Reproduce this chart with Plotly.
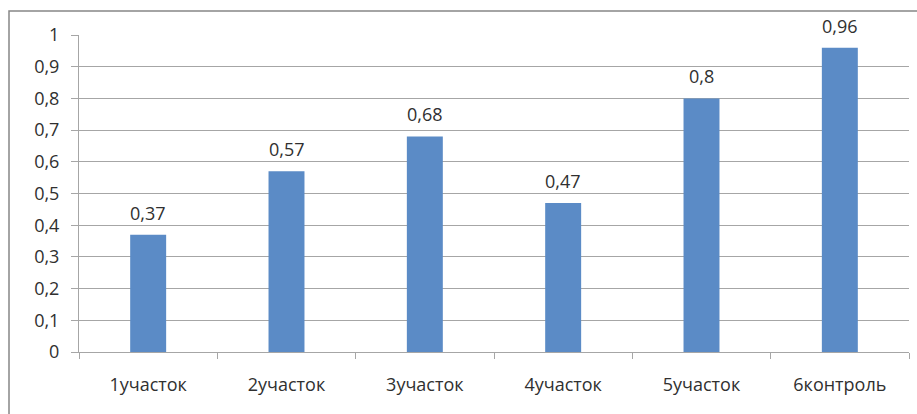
import plotly.graph_objects as go

categories = ["1участок", "2участок", "3участок", "4участок", "5участок", "6контроль"]
values = [0.37, 0.57, 0.68, 0.47, 0.80, 0.96]
y_ticks = [0, 0.1, 0.2, 0.3, 0.4, 0.5, 0.6, 0.7, 0.8, 0.9, 1.0]

FONT = "Open Sans"
FSIZE = 18
TEXT_COLOR = "#303030"
GRID = "#a6a6a6"
BAR = "#5b8bc6"


def fmt(v):
    s = ("%.2f" % v).rstrip("0").rstrip(".")
    return s.replace(".", ",")


fig = go.Figure()
fig.add_trace(go.Bar(
    x=categories,
    y=values,
    marker=dict(color=BAR, line=dict(width=0)),
    width=0.26,
    hoverinfo="skip",
))

for c, v in zip(categories, values):
    fig.add_annotation(
        x=c, y=v, text=fmt(v), showarrow=False,
        yanchor="bottom", yshift=8,
        font=dict(family=FONT, size=FSIZE, color=TEXT_COLOR),
    )

# outer chart frame
L, R, T, B = 79, 8, 35, 62
W, H = 917, 414
pw, ph = W - L - R, H - T - B
fig.add_shape(
    type="rect", xref="paper", yref="paper",
    x0=(9 - L) / pw, x1=(W + 5 - L) / pw,
    y0=(H - B - (H + 5)) / ph, y1=(H - B - 11) / ph,
    line=dict(color="#868686", width=1.5),
    fillcolor="rgba(0,0,0,0)", layer="below",
)

fig.update_layout(
    width=W, height=H,
    margin=dict(l=L, r=R, t=T, b=B, pad=0),
    paper_bgcolor="white", plot_bgcolor="white",
    showlegend=False,
    font=dict(family=FONT, size=FSIZE, color=TEXT_COLOR),
    bargap=0.74,
)
fig.update_yaxes(
    range=[0, 1], tickvals=y_ticks,
    ticktext=[fmt(t) for t in y_ticks],
    showgrid=True, gridcolor=GRID, gridwidth=1,
    ticks="outside", ticklen=7, tickcolor=GRID,
    showline=True, linecolor=GRID, linewidth=1,
    ticklabelstandoff=8, zeroline=False,
)
fig.update_xaxes(
    showline=True, linecolor=GRID, linewidth=1,
    ticks="outside", ticklen=6, tickcolor=GRID,
    tickson="boundaries", showgrid=False,
    ticklabelstandoff=16,
)

fig.write_html("out.html")
